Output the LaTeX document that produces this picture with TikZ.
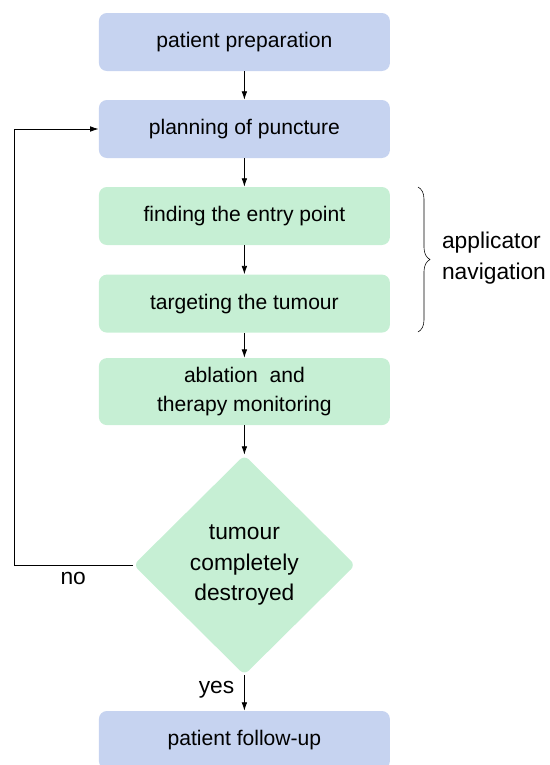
\documentclass[tikz,border=0pt]{standalone}
\usepackage{fontspec}
\setmainfont{Liberation Sans}
\usepackage{tikz}
\usetikzlibrary{shapes.geometric}
\usetikzlibrary{arrows.meta}
\usetikzlibrary{decorations.pathreplacing}
\usepackage{xcolor}
\definecolor{stepblue}{RGB}{198,211,240}
\definecolor{stepgreen}{RGB}{198,239,212}

\begin{document}
\begin{tikzpicture}[
    every node/.style={font=\fontsize{15}{21}\selectfont},
    bigtext/.style={font=\fontsize{16.2}{21.5}\selectfont},
    box/.style={rounded corners=0.2cm, minimum width=7.275cm, minimum height=1.45cm, align=center, inner sep=0pt},
    bluebox/.style={box, fill=stepblue},
    greenbox/.style={box, fill=stepgreen},
    decision/.style={diamond, fill=stepgreen, rounded corners=0.15cm, minimum width=5.55cm, minimum height=5.5cm, align=center, inner sep=0pt, bigtext},
    flow/.style={-{Latex[length=6pt,width=4pt]}, semithick, black}
  ]
        \useasboundingbox (0,0) rectangle (13.725,-19.125);
        \node[bluebox] (prep) at (6.11,-1.05) {patient preparation};
        \node[bluebox] (plan) at (6.11,-3.225) {planning of puncture};
        \node[greenbox] (entry) at (6.11,-5.4) {finding the entry point};
        \node[greenbox] (target) at (6.11,-7.59) {targeting the tumour};
        \node[greenbox, minimum height=1.675cm] (ablate) at (6.11,-9.79) {ablation\ \ and\\therapy monitoring};
        \node[decision] (check) at (6.11,-14.125) {tumour\\completely\\destroyed};
        \node[bluebox] (follow) at (6.11,-18.5) {patient follow-up};
        \coordinate (loopbot) at (0.35,-14.125);
        \coordinate (looptop) at (0.35,-3.225);
        \coordinate (bracetop) at (10.45,-4.675);
        \coordinate (bracebot) at (10.45,-8.3);
        \draw[flow] (prep) -- (plan);
        \draw[flow] (plan) -- (entry);
        \draw[flow] (entry) -- (target);
        \draw[flow] (target) -- (ablate);
        \draw[flow] (ablate) -- (check);
        \draw[flow] (check) -- (follow);
        \draw[flow] (check.west) -- (loopbot) -- (looptop) -- (plan.west);
        \draw[decorate, decoration={brace, amplitude=0.3cm}] (bracetop) -- (bracebot);
        \node[align=left, bigtext] (navlabel) at (12.35,-6.45) {applicator\\navigation};
        \node[bigtext] (no) at (1.83,-14.45) {no};
        \node[anchor=east, bigtext] (yes) at (5.98,-17.25) {yes};
      \end{tikzpicture}
\end{document}
